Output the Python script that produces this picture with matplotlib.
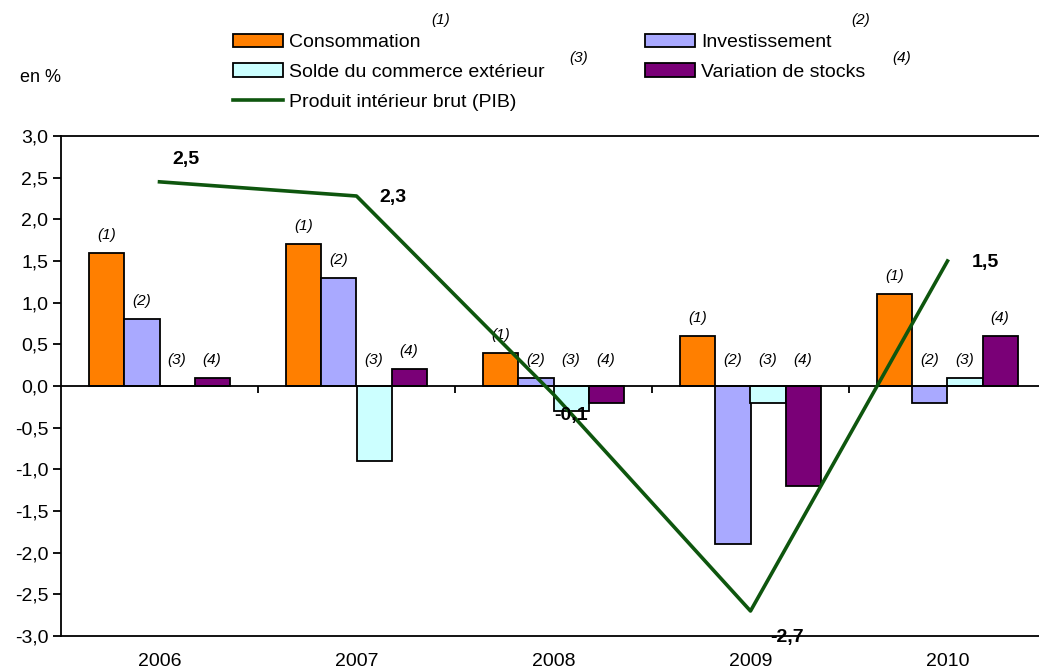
import numpy as np
import matplotlib
matplotlib.use("Agg")
import matplotlib.pyplot as plt

plt.rcParams['font.family'] = ['Liberation Sans', 'DejaVu Sans']

years = ["2006", "2007", "2008", "2009", "2010"]
consommation = [1.6, 1.7, 0.4, 0.6, 1.1]
investissement = [0.8, 1.3, 0.1, -1.9, -0.2]
solde = [0.0, -0.9, -0.3, -0.2, 0.1]
stocks = [0.1, 0.2, -0.2, -1.2, 0.6]
pib = [2.45, 2.28, -0.1, -2.7, 1.5]
pib_labels = ["2,5", "2,3", "-0,1", "-2,7", "1,5"]

series = [consommation, investissement, solde, stocks]
names = ["Consommation", "Investissement", "Solde du commerce extérieur", "Variation de stocks"]
notes = ["(1)", "(2)", "(3)", "(4)"]
colors = ["#FF7F00", "#A9A9FF", "#CCFFFF", "#7A0077"]
green = "#0E560E"

fig = plt.figure(figsize=(10.39, 6.68), dpi=100)
ax = fig.add_axes([61 / 1039, 32 / 668, 985 / 1039, 500 / 668])

x = np.arange(len(years))
w = 0.178
bars = []
for i, (vals, c) in enumerate(zip(series, colors)):
    pos = x + (i - 1.5) * w
    b = ax.bar(pos, vals, w, color=c, edgecolor="black", linewidth=1.3, zorder=2)
    bars.append(b)
    for px, v in zip(pos, vals):
        ax.annotate(notes[i], (px, max(v, 0.1)), xytext=(0, 8), textcoords="offset points",
                    ha="center", va="bottom", fontsize=11, style="italic", zorder=3)

line, = ax.plot(x, pib, color=green, linewidth=2.6, zorder=4)
# label offsets (points) for the PIB values
offsets = [(19, 16), (26, -1), (13, -15), (26, -19), (27, -1)]
for xi, v, lab, off in zip(x, pib, pib_labels, offsets):
    ax.annotate(lab, (xi, v), xytext=off, textcoords="offset points", ha="center",
                va="center", fontsize=14, fontweight="bold", zorder=5)

ax.axhline(0, color="black", linewidth=1.3, zorder=3)
ax.vlines(x[:-1] + 0.5, -0.08, 0, color="black", linewidth=1.3, zorder=3)

ax.set_xlim(-0.5, 4.5)
ax.set_ylim(-3.0, 3.0)
yt = np.arange(-3.0, 3.01, 0.5)
ax.set_yticks(yt)
ax.set_yticklabels([f"{t:.1f}".replace(".", ",") for t in yt], fontsize=14)
ax.set_xticks(x)
ax.set_xticklabels(years, fontsize=14)
ax.tick_params(axis="x", length=0, pad=12)
ax.tick_params(axis="y", length=6, width=1.3, direction="out", pad=3)
ax.spines["right"].set_visible(False)
for s in ["left", "top", "bottom"]:
    ax.spines[s].set_linewidth(1.3)

fig.text(20 / 1039, 1 - 77 / 668, "en %", fontsize=13, va="center")

handles = [bars[0], bars[2], line, bars[1], bars[3]]
labels = [names[0], names[2], "Produit intérieur brut (PIB)", names[1], names[3]]
fig.legend(handles, labels, ncol=2, loc="upper left", bbox_to_anchor=(219 / 1039, 1 - 20 / 668),
           frameon=False, fontsize=14, handlelength=2.6, handleheight=0.7, handletextpad=0.3,
           columnspacing=5.15, labelspacing=0.62, borderpad=0.2)

sup = [(441, 20, "(1)"), (861, 20, "(2)"), (579, 58, "(3)"), (902, 58, "(4)")]
for sx, sy, t in sup:
    fig.text(sx / 1039, 1 - sy / 668, t, fontsize=11, style="italic", ha="center", va="center")

fig.savefig("out.png", dpi=100)
